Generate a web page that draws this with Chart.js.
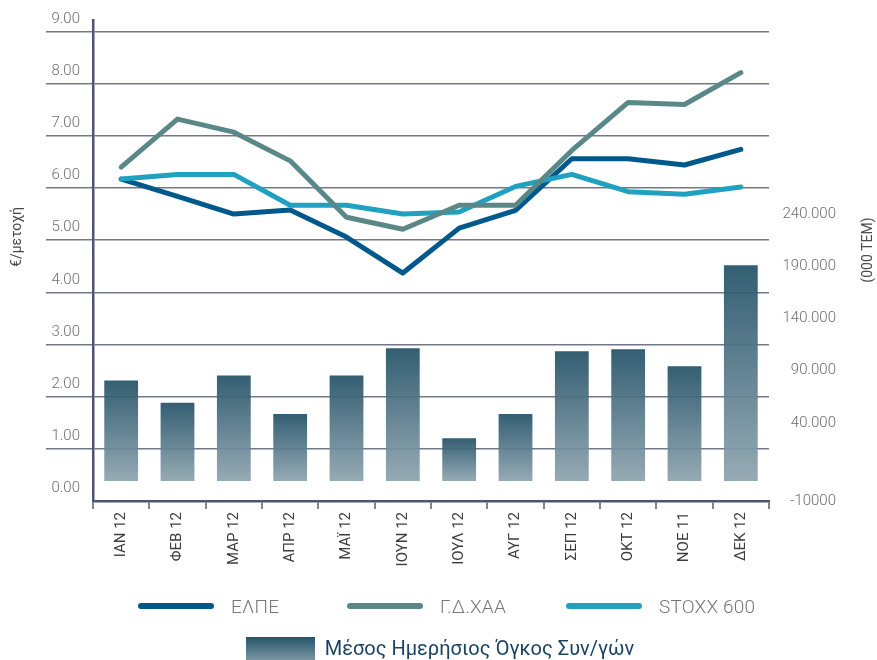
<!DOCTYPE html>
<html>
<head>
<meta charset="utf-8">
<script src="https://cdn.jsdelivr.net/npm/chart.js@4.4.1/dist/chart.umd.min.js"></script>
<style>
  html, body { margin: 0; padding: 0; background: #fff; }
  #wrap { position: relative; width: 877px; height: 660px; overflow: hidden; }
  .row { position: absolute; left: 0; width: 877px; display: flex; align-items: center; font-family: Roboto, sans-serif; box-sizing: border-box; }
  #lineRow { top: 592px; height: 28px; padding-left: 138px; }
  #barRow { top: 637px; height: 30px; justify-content: center; padding-left: 3px; }
  .item { display: flex; align-items: center; }
  .mark { width: 76px; height: 6px; border-radius: 3px; margin-right: 17px; }
  .txt { font-size: 19px; font-weight: 300; color: #777; letter-spacing: 0.2px; }
  .box { width: 69px; height: 30px; margin-right: 10px; background: linear-gradient(#24546a, #93a9b3); align-self: flex-start; }
  .btxt { font-size: 20px; color: #1b4360; margin-top: -8px; }
</style>
</head>
<body>
<div id="wrap">
  <canvas id="chart" width="877" height="660"></canvas>
  <div class="row" id="lineRow"></div>
  <div class="row" id="barRow"></div>
</div>
<script>
"use strict";

const months = ["ΙΑΝ 12", "ΦΕΒ 12", "ΜΑΡ 12", "ΑΠΡ 12", "ΜΑΪ 12", "ΙΟΥΝ 12", "ΙΟΥΛ 12", "ΑΥΓ 12", "ΣΕΠ 12", "ΟΚΤ 12", "ΝΟΕ 11", "ΔΕΚ 12"];
const elpe = [6.17, 5.84, 5.50, 5.58, 5.06, 4.37, 5.23, 5.57, 6.56, 6.56, 6.44, 6.74];
const gdxaa = [6.40, 7.32, 7.07, 6.52, 5.44, 5.21, 5.67, 5.67, 6.72, 7.64, 7.60, 8.21];
const stoxx = [6.17, 6.26, 6.26, 5.67, 5.67, 5.50, 5.54, 6.03, 6.26, 5.93, 5.88, 6.02];
const volume = [80600, 59400, 85500, 48700, 85500, 111600, 25500, 48700, 108700, 110600, 94200, 191000];

const priceTicks = [0, 1, 2, 3, 4, 5, 6, 7, 8, 9];
const volumeTicks = [-10000, 40000, 90000, 140000, 190000, 240000];
const volumeTickLabels = ["-10000", "40.000", "90.000", "140.000", "190.000", "240.000"];

const leftTitle = "€/μετοχή";
const rightTitle = "(000 TEM)";
const barLabel = "Μέσος Ημερήσιος Όγκος Συν/γών";

const gridColor = "rgba(84,89,114,0.82)";
const axisColor = "#4f5570";
const tickFont = { family: "Roboto", size: 15, weight: 300 };

// each bar gets its own dark-to-light fade
function barFill(ctx) {
  const chart = ctx.chart;
  const y1 = chart.scales.y1;
  if (!y1 || ctx.type !== "data") return "#4a6a7a";
  const top = y1.getPixelForValue(ctx.raw);
  const bottom = y1.getPixelForValue(ctx.dataset.base);
  if (!isFinite(top) || !isFinite(bottom)) return "#4a6a7a";
  const g = chart.ctx.createLinearGradient(0, top, 0, bottom);
  g.addColorStop(0, "rgba(36,82,104,0.93)");
  g.addColorStop(1, "rgba(142,164,175,0.93)");
  return g;
}

const axisTitles = {
  id: "axisTitles",
  afterDraw(chart) {
    const c = chart.ctx;
    c.save();
    c.font = "14px Roboto";
    c.fillStyle = "#4a4a4a";
    c.textAlign = "center";
    c.textBaseline = "middle";
    [[leftTitle, 17, 237], [rightTitle, 868, 250]].forEach(([t, x, y]) => {
      c.save();
      c.translate(x, y);
      c.rotate(-Math.PI / 2);
      c.fillText(t, 0, 0);
      c.restore();
    });
    c.restore();
  },
};

const lineSet = (label, data, color, order) => ({
  type: "line",
  label: label,
  data: data,
  yAxisID: "y",
  borderColor: color,
  backgroundColor: color,
  borderWidth: 5,
  pointRadius: 0,
  tension: 0,
  borderCapStyle: "round",
  borderJoinStyle: "round",
  order: order,
});

const data = {
  labels: months,
  datasets: [
    lineSet("ΕΛΠΕ", elpe, "#00588b", 3),
    lineSet("Γ.Δ.ΧΑΑ", gdxaa, "#5a8889", 1),
    lineSet("STOXX 600", stoxx, "#21a1c0", 2),
    {
      type: "bar",
      label: barLabel,
      data: volume,
      yAxisID: "y1",
      base: -15500,
      backgroundColor: barFill,
      borderWidth: 0,
      barPercentage: 0.6,
      categoryPercentage: 1,
      order: 4,
    },
  ],
};

const fitSide = (w) => (s) => {
  s.width = w;
  s.paddingTop = 0;
  s.paddingBottom = 0;
};

const config = {
  data: data,
  plugins: [axisTitles],
  options: {
    responsive: false,
    animation: false,
    layout: { padding: { top: 20, left: 0, right: 41, bottom: 0 } },
    plugins: { legend: { display: false }, tooltip: { enabled: false } },
    scales: {
      x: {
        afterFit: (s) => { s.height = 159; s.paddingLeft = 0; s.paddingRight = 0; },
        border: { color: axisColor, width: 2.5 },
        grid: { offset: true, drawOnChartArea: false, drawTicks: true, tickLength: 8, color: "#858585", lineWidth: 2 },
        ticks: { autoSkip: false, minRotation: 90, maxRotation: 90, padding: 3, color: "#3d3d3d", font: { family: "Roboto", size: 15 } },
      },
      y: {
        position: "left",
        min: 0,
        max: 9.22,
        afterFit: fitSide(93),
        afterBuildTicks: (s) => { s.ticks = priceTicks.map((v) => ({ value: v })); },
        border: { color: axisColor, width: 2.5 },
        grid: {
          color: (c) => (c.tick && c.tick.value === 0 ? "rgba(0,0,0,0)" : gridColor),
          tickColor: (c) => (c.tick && c.tick.value === 0 ? "rgba(0,0,0,0)" : gridColor),
          lineWidth: 1.5,
          tickLength: 47,
        },
        ticks: {
          padding: -34,
          labelOffset: -12.5,
          color: "#6e6e6e",
          font: tickFont,
          callback: (v) => Number(v).toFixed(2),
        },
      },
      y1: {
        position: "right",
        min: -34640,
        max: 425600,
        afterFit: fitSide(67),
        // lowest label sits on the axis line, as in the source
        afterBuildTicks: (s) => { s.ticks = volumeTicks.map((v, i) => ({ value: i === 0 ? s.min : v })); },
        border: { display: false },
        grid: { display: false },
        ticks: {
          crossAlign: "far",
          color: "#6e6e6e",
          font: tickFont,
          callback: (v, i) => volumeTickLabels[i],
        },
      },
    },
  },
};

const chart = new Chart(document.getElementById("chart"), config);

// legend built from the chart's datasets
const itemWidths = [209, 219, null];
const lineRow = document.getElementById("lineRow");
chart.data.datasets.filter((d) => d.type === "line").forEach((d, i) => {
  const it = document.createElement("div");
  it.className = "item";
  if (itemWidths[i]) it.style.width = itemWidths[i] + "px";
  it.innerHTML = `<span class="mark" style="background:${d.borderColor}"></span><span class="txt">${d.label}</span>`;
  lineRow.appendChild(it);
});
const barRow = document.getElementById("barRow");
chart.data.datasets.filter((d) => d.type === "bar").forEach((d) => {
  barRow.innerHTML = `<span class="box"></span><span class="btxt">${d.label}</span>`;
});
</script>
</body>
</html>
